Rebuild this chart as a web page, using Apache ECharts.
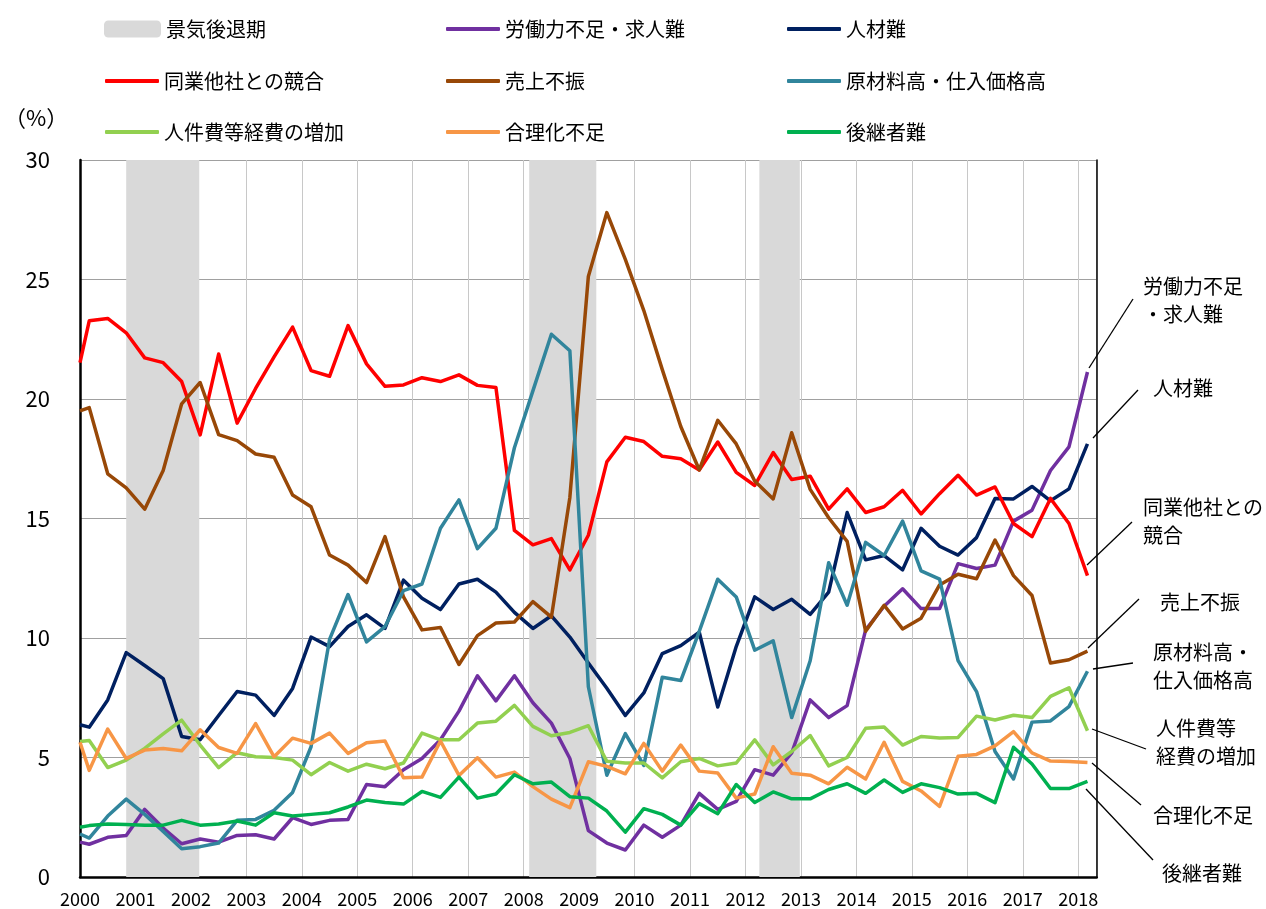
<!DOCTYPE html>
<html><head><meta charset="utf-8">
<script src="https://cdn.jsdelivr.net/npm/echarts@6/dist/echarts.min.js"></script>
<style>html,body{margin:0;padding:0;background:#fff}#c{width:1266px;height:909px}</style>
</head><body><div id="c"></div>
<script>
// survey timing: months after Jan 2000 (first point sits on the axis start, then every 4 months from Mar 2000)
const monthOffsets = [0].concat(Array.from({length: 55}, (_, k) => 2 + 4 * k));
const xYears = monthOffsets.map(m => 2000 + m / 12);

const yearTicks = [2000, 2018];
const recessions = [[2000.833, 2002.15], [2008.1, 2009.31], [2012.25, 2012.98]];

const laborShortage = [1.46, 1.37, 1.66, 1.74, 2.83, 2.05, 1.39, 1.59, 1.46, 1.74,
  1.77, 1.59, 2.48, 2.20, 2.37, 2.41, 3.87, 3.78, 4.49, 4.96,
  5.74, 6.94, 8.42, 7.37, 8.42, 7.29, 6.44, 4.96, 1.94, 1.42,
  1.13, 2.17, 1.66, 2.17, 3.50, 2.83, 3.16, 4.49, 4.26, 5.19,
  7.41, 6.67, 7.17, 10.34, 11.33, 12.06, 11.23, 11.23, 13.11, 12.91,
  13.05, 14.89, 15.35, 17.01, 18.00, 21.13];
const talentShortage = [6.37, 6.27, 7.41, 9.39, 8.85, 8.30, 5.88, 5.74, 6.76, 7.76,
  7.61, 6.76, 7.89, 10.04, 9.64, 10.48, 10.97, 10.40, 12.42, 11.66,
  11.19, 12.26, 12.46, 11.92, 11.07, 10.40, 10.93, 10.04, 8.95, 7.90,
  6.76, 7.70, 9.35, 9.68, 10.24, 7.11, 9.64, 11.72, 11.19, 11.62,
  10.99, 11.92, 15.25, 13.27, 13.45, 12.85, 14.59, 13.84, 13.47, 14.20,
  15.84, 15.82, 16.34, 15.74, 16.24, 18.12];
const competition = [21.52, 23.27, 23.37, 22.77, 21.72, 21.52, 20.73, 18.50, 21.88, 18.99,
  20.44, 21.76, 23.01, 21.19, 20.95, 23.07, 21.47, 20.53, 20.59, 20.89,
  20.73, 21.01, 20.57, 20.48, 14.50, 13.90, 14.16, 12.85, 14.30, 17.37,
  18.40, 18.22, 17.60, 17.50, 17.03, 18.20, 16.93, 16.38, 17.76, 16.63,
  16.77, 15.39, 16.24, 15.25, 15.49, 16.18, 15.19, 16.04, 16.81, 15.98,
  16.32, 14.79, 14.24, 15.84, 14.79, 12.61];
const weakSales = [19.50, 19.64, 16.87, 16.28, 15.39, 17.01, 19.80, 20.69, 18.51, 18.26,
  17.70, 17.56, 15.98, 15.49, 13.47, 13.05, 12.32, 14.24, 11.72, 10.34,
  10.44, 8.89, 10.10, 10.63, 10.67, 11.52, 10.87, 15.88, 25.13, 27.80,
  25.84, 23.70, 21.23, 18.85, 17.03, 19.11, 18.12, 16.57, 15.82, 18.59,
  16.22, 15.03, 14.04, 10.28, 11.37, 10.38, 10.83, 12.22, 12.67, 12.48,
  14.10, 12.61, 11.78, 8.95, 9.09, 9.45];
const materialCosts = [1.80, 1.63, 2.55, 3.26, 2.62, 1.91, 1.18, 1.27, 1.42, 2.37,
  2.41, 2.79, 3.54, 5.45, 9.94, 11.82, 9.84, 10.48, 11.98, 12.26,
  14.59, 15.78, 13.74, 14.59, 17.96, 20.34, 22.71, 22.02, 7.96, 4.26,
  6.00, 4.67, 8.36, 8.22, 10.28, 12.46, 11.72, 9.49, 9.88, 6.67,
  9.05, 13.15, 11.37, 14.00, 13.45, 14.89, 12.81, 12.46, 9.05, 7.76,
  5.25, 4.10, 6.48, 6.53, 7.13, 8.61];
const laborCosts = [5.67, 5.71, 4.58, 4.89, 5.38, 5.99, 6.56, 5.52, 4.58, 5.20,
  5.03, 5.00, 4.89, 4.28, 4.79, 4.43, 4.72, 4.53, 4.77, 6.02,
  5.74, 5.74, 6.44, 6.52, 7.18, 6.30, 5.91, 6.05, 6.33, 4.84,
  4.77, 4.77, 4.15, 4.82, 4.96, 4.65, 4.77, 5.74, 4.69, 5.25,
  5.92, 4.65, 5.00, 6.22, 6.28, 5.52, 5.88, 5.82, 5.84, 6.73,
  6.57, 6.77, 6.67, 7.56, 7.92, 6.12];
const inefficiency = [5.64, 4.46, 6.19, 4.96, 5.31, 5.38, 5.28, 6.16, 5.42, 5.17,
  6.42, 5.03, 5.81, 5.59, 6.02, 5.17, 5.62, 5.69, 4.15, 4.18,
  5.69, 4.25, 4.99, 4.18, 4.39, 3.78, 3.26, 2.90, 4.82, 4.63,
  4.32, 5.59, 4.43, 5.52, 4.43, 4.35, 3.30, 3.47, 5.45, 4.34,
  4.26, 3.90, 4.59, 4.10, 5.64, 4.00, 3.60, 2.95, 5.05, 5.13,
  5.49, 6.08, 5.19, 4.85, 4.83, 4.79];
const successor = [2.08, 2.15, 2.22, 2.20, 2.17, 2.17, 2.37, 2.17, 2.22, 2.34,
  2.17, 2.69, 2.55, 2.62, 2.69, 2.93, 3.22, 3.12, 3.05, 3.58,
  3.33, 4.18, 3.30, 3.47, 4.28, 3.90, 3.97, 3.36, 3.30, 2.76,
  1.88, 2.86, 2.62, 2.17, 3.07, 2.65, 3.87, 3.12, 3.56, 3.27,
  3.27, 3.66, 3.90, 3.50, 4.06, 3.54, 3.90, 3.74, 3.47, 3.50,
  3.11, 5.43, 4.73, 3.70, 3.70, 4.00];

const seriesNames = ['労働力不足・求人難', '人材難', '同業他社との競合', '売上不振',
  '原材料高・仕入価格高', '人件費等経費の増加', '合理化不足', '後継者難'];
const seriesValues = [laborShortage, talentShortage, competition, weakSales,
  materialCosts, laborCosts, inefficiency, successor];
const seriesColors = ['#7030A0', '#002060', '#FF0000', '#984807', '#31859C', '#92D050', '#F79646', '#00B050'];
const recessionName = '景気後退期';

const FONT = '"Noto Sans CJK JP", "Noto Sans CJK SC", sans-serif';

const chart = echarts.init(document.getElementById('c'), null, {renderer: 'canvas'});

const lineSeries = seriesNames.map((name, i) => ({
  name, type: 'line', yAxisIndex: 0,
  data: seriesValues[i].map((v, j) => [xYears[j], v]),
  color: seriesColors[i],
  symbol: 'none', showSymbol: false, smooth: false,
  lineStyle: {width: 3.5, color: seriesColors[i], join: 'round'},
  clip: true, animation: false, z: 3 + i
}));

const recessionSeries = {
  name: recessionName, type: 'line', data: [], color: '#D9D9D9',
  itemStyle: {color: '#D9D9D9'}, animation: false,
  markArea: {
    silent: true,
    itemStyle: {color: '#D9D9D9', opacity: 1},
    data: recessions.map(r => [{xAxis: r[0]}, {xAxis: r[1]}])
  },
  z: 1
};

// legend layout: [name, left, centerY, isBox]
const legendLayout = [
  [recessionName, 104, 29, true], [seriesNames[0], 446, 29], [seriesNames[1], 787, 29],
  [seriesNames[2], 105, 81], [seriesNames[3], 446, 81], [seriesNames[4], 787, 81],
  [seriesNames[5], 105, 132], [seriesNames[6], 446, 132], [seriesNames[7], 787, 132]
];
const legends = legendLayout.map(([name, left, cy, box]) => ({
  data: [{name, icon: box ? 'roundRect' : 'roundRect'}],
  left, top: cy - 11, padding: 0,
  itemWidth: box ? 57 : 54, itemHeight: box ? 17 : 4,
  selectedMode: false,
  textStyle: {fontSize: 20, lineHeight: 22, color: '#000', fontFamily: FONT, padding: [0, 0, 0, 0]}
}));

// right-side annotations
const annotations = [
  {lines: ['労働力不足', '・求人難'], x: 1143, y: 286, lead: [1089, 368, 1133, 299]},
  {lines: ['人材難'], x: 1153, y: 388, lead: [1093, 438, 1138, 390]},
  {lines: ['同業他社との', '競合'], x: 1143, y: 507, lead: [1087, 565, 1132, 522]},
  {lines: ['売上不振'], x: 1160, y: 602, lead: [1088, 648, 1139, 599]},
  {lines: ['原材料高・', '仕入価格高'], x: 1153, y: 652, lead: [1093, 669, 1133, 663]},
  {lines: ['人件費等', '経費の増加'], x: 1156, y: 728, lead: [1092, 729, 1146, 749]},
  {lines: ['合理化不足'], x: 1153, y: 815, lead: [1092, 763, 1141, 805]},
  {lines: ['後継者難'], x: 1162, y: 873, lead: [1086, 789, 1153, 860]}
];
const graphics = [];
annotations.forEach(a => {
  a.lines.forEach((t, k) => {
    graphics.push({type: 'text', x: a.x, y: a.y + k * 28, z: 100,
      style: {text: t, font: '20px ' + FONT, fill: '#000', verticalAlign: 'middle', align: 'left'}});
  });
  graphics.push({type: 'line', z: 100,
    shape: {x1: a.lead[0], y1: a.lead[1], x2: a.lead[2], y2: a.lead[3]},
    style: {stroke: '#000', lineWidth: 1.3}});
});
graphics.push({type: 'text', x: 4, y: 118, z: 100,
  style: {text: '（%）', font: '22px ' + FONT, fill: '#000', verticalAlign: 'middle', align: 'left'}});

chart.setOption({
  animation: false,
  backgroundColor: '#fff',
  textStyle: {fontFamily: FONT},
  legend: legends,
  grid: {left: 80, top: 160, width: 1016.7, height: 717, containLabel: false},
  xAxis: {
    type: 'value', min: yearTicks[0], max: yearTicks[1] + 4 / 12, interval: 1,
    axisLine: {show: true, onZero: false, lineStyle: {color: '#000', width: 2.5}},
    axisTick: {show: false},
    axisLabel: {fontSize: 18, color: '#000', fontFamily: FONT, margin: 13,
      formatter: v => (Math.abs(v - Math.round(v)) < 1e-6 && v <= yearTicks[1]) ? String(Math.round(v)) : ''},
    splitLine: {show: true, lineStyle: {color: '#C8C8C8', width: 1}}
  },
  yAxis: [{
    type: 'value', min: 0, max: 30, interval: 5,
    axisLine: {show: true, lineStyle: {color: '#000', width: 2.5}},
    axisTick: {show: false},
    axisLabel: {fontSize: 22, color: '#000', fontFamily: FONT, margin: 30},
    splitLine: {show: true, lineStyle: {color: '#A0A0A0', width: 1}}
  }, {
    type: 'value', min: 0, max: 30, position: 'right',
    axisLine: {show: true, lineStyle: {color: '#000', width: 1.5}},
    axisTick: {show: false}, axisLabel: {show: false}, splitLine: {show: false}
  }],
  series: [recessionSeries].concat(lineSeries),
  graphic: graphics
});
</script></body></html>
